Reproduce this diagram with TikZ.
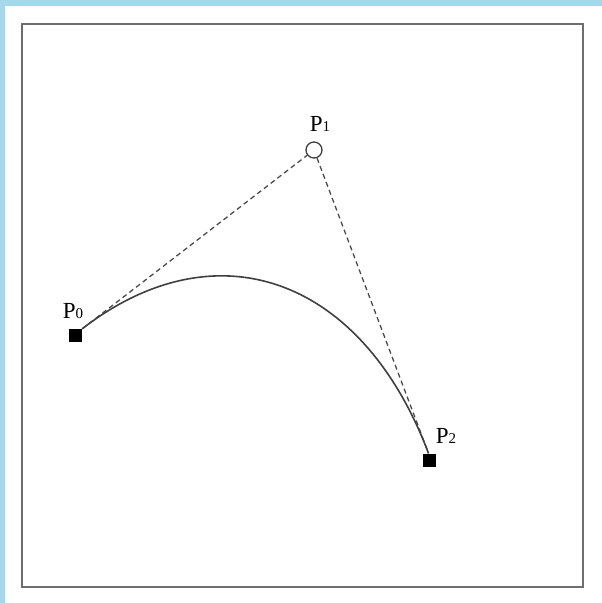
\documentclass[tikz,border=0pt]{standalone}
\usepackage{fontspec}
\setmainfont{Liberation Serif}
\usetikzlibrary{calc}
\definecolor{band}{HTML}{A5D8EA}
\definecolor{frame}{HTML}{6E6E6E}
\begin{document}
\begin{tikzpicture}[x=1pt,y=-1pt,
  endpt/.style={rectangle,fill=black,inner sep=0pt,minimum size=13pt},
  ctrlpt/.style={circle,draw=black!75,line width=1.3pt,fill=white,inner sep=0pt,minimum size=16pt},
  guide/.style={draw=black!70,line width=1.3pt,dash pattern=on 5pt off 3.5pt},
  curveline/.style={draw=black!75,line width=1.6pt},
  lbl/.style={font=\fontsize{23}{25}\selectfont,inner sep=0pt}]
\useasboundingbox (0,0) rectangle (602,603);
\fill[white] (0,0) rectangle (602,603);
\fill[band] (0,0) rectangle (602,6);
\fill[band] (0,0) rectangle (5,603);
\draw[frame,line width=2.2pt] (22,24) rectangle (583,587);
\node[endpt] (p0) at (75.5,335.5) {};
\node[ctrlpt] (p1) at (314,150) {};
\node[endpt] (p2) at (429.5,460) {};
\coordinate (c0) at (p0.north east);
\coordinate (c2) at ($(p2.north)+(-1,0)$);
\draw[guide] (c0) -- (p1);
\draw[guide] (p1) -- (c2);
\draw[curveline] (c0) .. controls ($(c0)!0.58!(p1)$) and ($(c2)!0.58!(p1)$) .. (c2);
\node[lbl] (l0) at (73,311) {P{\fontsize{15}{15}\selectfont 0}};
\node[lbl] (l1) at (320,124) {P{\fontsize{15}{15}\selectfont 1}};
\node[lbl] (l2) at (446,436) {P{\fontsize{15}{15}\selectfont 2}};
\end{tikzpicture}
\end{document}
